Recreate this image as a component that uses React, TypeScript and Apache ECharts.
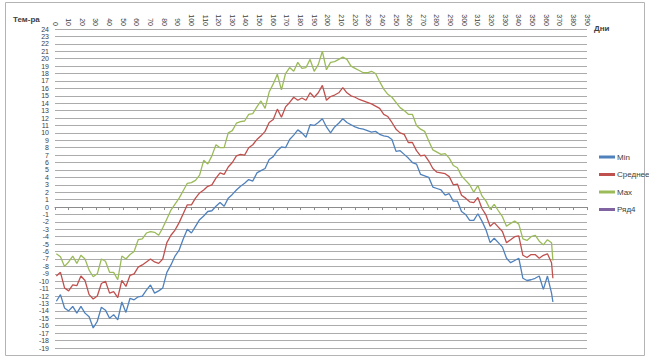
import React, { useEffect, useRef } from "react";
import * as echarts from "echarts";

const xTicks = { min: 0, max: 390, step: 10 };
const yTicks = { min: -19, max: 24, step: 1 };

const days = [
  1, 4, 7, 10, 13, 16, 19, 22, 25, 28, 31, 34, 37, 40, 43, 46, 49, 52, 55, 58,
  61, 64, 67, 70, 73, 76, 79, 82, 85, 88, 91, 94, 97, 100, 103, 106, 109, 112, 115, 118,
  121, 124, 127, 130, 133, 136, 139, 142, 145, 148, 151, 154, 157, 160, 163, 166, 169, 172, 175, 178,
  181, 184, 187, 190, 193, 196, 199, 202, 205, 208, 211, 214, 217, 220, 223, 226, 229, 232, 235, 238,
  241, 244, 247, 250, 253, 256, 259, 262, 265, 268, 271, 274, 277, 280, 283, 286, 289, 292, 295, 298,
  301, 304, 307, 310, 313, 316, 319, 322, 325, 328, 331, 334, 337, 340, 343, 346, 349, 352, 355, 358,
  361, 364, 365,
];

const minT = [
  -12.7, -11.8, -13.6, -14.0, -13.4, -14.3, -13.4, -14.3, -14.8, -16.3, -15.4, -13.5, -13.9, -15.0, -14.5, -15.2, -12.8, -14.2, -12.3, -12.5,
  -12.1, -12.0, -11.2, -10.5, -11.6, -11.3, -10.9, -8.8, -7.8, -6.6, -5.8, -4.3, -3.0, -3.5, -2.6, -1.7, -1.2, -0.6, -0.5, 0.1,
  0.6, 0.1, 1.2, 1.7, 2.3, 2.8, 3.2, 3.7, 3.5, 4.6, 4.9, 5.2, 6.4, 6.8, 7.6, 8.1, 8.0, 9.1, 9.7, 10.4,
  10.0, 9.4, 11.1, 11.0, 11.4, 11.9, 10.8, 10.0, 10.8, 11.3, 11.9, 11.4, 11.1, 10.8, 10.6, 10.5, 10.3, 10.1, 10.2, 9.8,
  9.6, 9.5, 9.1, 7.5, 7.6, 7.1, 6.6, 6.0, 5.8, 4.4, 4.2, 4.0, 2.7, 2.5, 2.3, 1.6, 1.8, 0.8, 0.8, -0.6,
  -1.0, -1.8, -1.8, -0.9, -1.9, -3.1, -4.8, -4.2, -4.8, -5.4, -6.9, -7.5, -7.2, -6.9, -9.6, -9.9, -9.8, -9.6, -9.3, -11.1,
  -9.3, -11.6, -12.8,
];

const meanT = [
  -9.3, -8.8, -10.9, -11.3, -10.5, -10.6, -9.3, -9.9, -11.8, -12.4, -12.0, -10.3, -10.0, -11.6, -11.4, -12.2, -9.9, -10.7, -9.2, -9.0,
  -8.1, -7.8, -7.4, -7.0, -7.4, -7.6, -7.0, -4.8, -3.8, -3.1, -2.1, -0.9, 0.3, 0.3, 1.2, 1.9, 2.3, 2.8, 3.0, 3.9,
  4.6, 4.4, 5.4, 6.0, 6.9, 7.1, 7.0, 8.0, 8.4, 9.1, 9.6, 10.2, 11.4, 11.8, 13.2, 12.1, 13.5, 14.1, 14.8, 14.4,
  14.7, 14.4, 15.4, 14.8, 15.4, 16.4, 14.4, 14.9, 15.1, 15.4, 16.1, 15.4, 15.0, 14.8, 14.5, 14.3, 14.1, 13.9, 13.6, 13.3,
  12.5, 12.2, 11.4, 10.5, 10.0, 9.8, 8.7, 8.7, 7.6, 6.9, 7.0, 6.2, 5.2, 4.7, 4.6, 4.5, 4.1, 3.0, 3.1, 1.6,
  1.2, 0.7, 0.6, 1.3, -0.2, -1.1, -2.6, -2.1, -2.7, -3.3, -4.8, -4.4, -4.0, -3.9, -6.5, -6.8, -6.4, -6.4, -6.9, -6.5,
  -6.3, -7.5, -9.6,
];

const maxT = [
  -6.3, -6.7, -8.0, -7.4, -6.6, -7.6, -6.5, -7.0, -8.5, -9.4, -9.0, -7.0, -7.3, -8.8, -8.8, -9.8, -6.6, -7.0, -6.4, -6.0,
  -4.4, -4.3, -3.5, -3.3, -3.4, -3.8, -2.8, -1.6, -0.4, 0.4, 1.2, 2.2, 3.2, 3.3, 3.6, 4.3, 6.3, 5.8, 6.9, 8.4,
  8.0, 8.0, 10.0, 10.3, 11.3, 11.5, 11.6, 12.5, 12.6, 13.5, 14.3, 13.3, 15.5, 16.6, 17.9, 15.8, 18.0, 18.8, 18.3, 19.5,
  18.7, 18.8, 19.9, 18.3, 19.2, 21.0, 18.5, 19.5, 19.6, 19.9, 20.2, 19.9, 19.0, 18.7, 18.4, 18.1, 18.1, 18.3, 18.0, 16.9,
  15.9, 15.2, 14.8, 14.1, 13.4, 13.0, 12.5, 12.5, 11.0, 10.5, 10.2, 8.9, 7.7, 7.4, 7.1, 7.2, 6.6, 5.6, 5.3, 4.2,
  3.6, 3.0, 2.0, 2.9, 1.5, 0.8, -0.3, 0.35, -0.5, -1.3, -2.6, -2.2, -1.9, -2.3, -4.3, -4.5, -4.0, -3.8, -4.6, -5.1,
  -4.4, -4.8, -7.2,
];

const seriesNames = ["Min", "Среднее", "Max", "Ряд4"];
const seriesColors = ["#4F81BD", "#C0504D", "#9BBB59", "#8064A2"];

const FONT = "'Liberation Sans', Arial, sans-serif";

export default function App() {
  const ref = useRef<HTMLDivElement>(null);

  useEffect(() => {
    if (!ref.current) return;
    const chart = echarts.init(ref.current, null, { renderer: "svg" });
    const pair = (vals: number[]) => days.map((d, i) => [d, vals[i]]);
    const lineSeries = (name: string, color: string, data: number[][]) => ({
      name,
      type: "line",
      xAxisIndex: 0,
      data,
      showSymbol: false,
      symbol: "none",
      color,
      lineStyle: { color, width: 1.3 },
    });
    chart.setOption({
      animation: false,
      textStyle: { fontFamily: FONT },
      grid: { left: 55, right: 62, top: 29, bottom: 14, containLabel: false },
      xAxis: [
        {
          type: "value",
          position: "top",
          min: xTicks.min,
          max: xTicks.max,
          interval: xTicks.step,
          axisLine: { show: false, onZero: false },
          axisTick: { show: false },
          splitLine: { show: false },
          axisLabel: {
            rotate: 90,
            fontSize: 7,
            color: "#404040",
            margin: 3,
            fontFamily: FONT,
            showMinLabel: true,
            showMaxLabel: true,
          },
        },
        {
          type: "value",
          position: "bottom",
          min: xTicks.min,
          max: xTicks.max,
          interval: xTicks.step,
          axisLine: { show: true, onZero: true, lineStyle: { color: "#8c8c8c", width: 1 } },
          axisTick: { show: true, length: 3, lineStyle: { color: "#8c8c8c" } },
          axisLabel: { show: false },
          splitLine: { show: false },
        },
      ],
      yAxis: {
        type: "value",
        min: yTicks.min,
        max: yTicks.max,
        interval: yTicks.step,
        axisLine: { show: false },
        axisTick: { show: false },
        axisLabel: {
          fontSize: 7,
          lineHeight: 7,
          color: "#404040",
          margin: 6,
          fontFamily: FONT,
          interval: 0,
          showMinLabel: true,
          showMaxLabel: true,
          hideOverlap: false,
        },
        splitLine: { lineStyle: { color: "#ababab", width: 1 } },
      },
      legend: {
        data: seriesNames,
        orient: "vertical",
        left: 594,
        top: 147,
        icon: "rect",
        itemWidth: 16,
        itemHeight: 3,
        itemGap: 7.5,
        textStyle: { fontSize: 8, color: "#404040", lineHeight: 10, fontFamily: FONT, padding: [0, 0, 0, -3] },
      },
      graphic: [
        {
          type: "rect",
          shape: { x: 5.5, y: 2.5, width: 639, height: 353 },
          style: { fill: "none", stroke: "#b4b4b4", lineWidth: 1 },
          silent: true,
        },
        {
          type: "text",
          left: 13,
          top: 15,
          style: { text: "Тем-ра", fontSize: 8, fontWeight: "bold", fill: "#404040", fontFamily: FONT },
        },
        {
          type: "text",
          left: 594,
          top: 24,
          style: { text: "Дни", fontSize: 8, fontWeight: "bold", fill: "#404040", fontFamily: FONT },
        },
      ],
      series: [
        lineSeries(seriesNames[0], seriesColors[0], pair(minT)),
        lineSeries(seriesNames[1], seriesColors[1], pair(meanT)),
        lineSeries(seriesNames[2], seriesColors[2], pair(maxT)),
        lineSeries(seriesNames[3], seriesColors[3], []),
      ],
    });
    return () => chart.dispose();
  }, []);

  return (
    <div
      ref={ref}
      style={{ position: "fixed", left: 0, top: 0, width: 649, height: 362, background: "#fff" }}
    />
  );
}
